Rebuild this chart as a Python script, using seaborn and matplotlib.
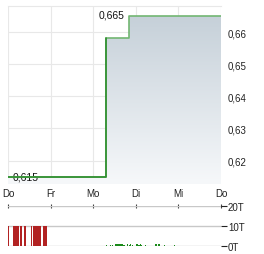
import numpy as np
import pandas as pd
import matplotlib
matplotlib.use("Agg")
import matplotlib.pyplot as plt
from matplotlib.colors import LinearSegmentedColormap
import seaborn as sns

# ---- data ----
day_labels = ["Do", "Fr", "Mo", "Di", "Mi", "Do"]
day_pos = [0, 1, 2, 3, 4, 5]

price_times = [0.0, 2.31, 2.85, 5.0]
price_values = [0.615, 0.658, 0.665, 0.665]

y_ticks = [0.62, 0.63, 0.64, 0.65, 0.66]
y_tick_labels = ["0,62", "0,63", "0,64", "0,65", "0,66"]

max_label = "0,665"
min_label = "0,615"

red_times = [0.0, 0.11, 0.135, 0.16, 0.185, 0.21, 0.235, 0.28, 0.30,
             0.37, 0.395, 0.54, 0.58, 0.605, 0.63, 0.655, 0.68, 0.705, 0.73, 0.755,
             0.83, 0.855, 0.88, 0.89]
red_vols = [10.0] * len(red_times)

green_times = [2.30, 2.39, 2.44, 2.50, 2.53, 2.56, 2.59, 2.62, 2.65, 2.68, 2.71,
               2.80, 2.83, 2.86, 2.90, 3.00, 3.03, 3.06, 3.09, 3.12, 3.22,
               3.45, 3.48, 3.51, 3.55, 3.66, 3.90]
green_vols = [0.6, 0.6, 0.5, 0.9, 0.9, 0.9, 0.9, 0.9, 0.9, 0.9, 0.6,
              0.9, 0.6, 0.9, 0.6, 0.9, 0.9, 0.6, 0.9, 0.6, 0.6,
              0.9, 0.9, 0.9, 0.9, 0.6, 0.6]

vol_ticks = [0, 10, 20]
vol_tick_labels = ["0T", "10T", "20T"]

# ---- figure ----
sns.set_style("white")
plt.rcParams["font.family"] = ["Liberation Sans", "DejaVu Sans"]

W, H = 264, 255
fig = plt.figure(figsize=(W / 100, H / 100), dpi=100)

left, right = 8 / W, 221 / W
ax = fig.add_axes([left, 1 - 185 / H, right - left, (185 - 7) / H])
axv = fig.add_axes([left, 1 - 247 / H, right - left, (247 - 207) / H])

ymin, ymax = 0.6127, 0.6681
ax.set_xlim(0, 5)
ax.set_ylim(ymin, ymax)

# gradient fill under the step line
df = pd.DataFrame({"t": price_times, "p": price_values})
poly = ax.fill_between(df["t"], df["p"], ymin, step="post", color="none", lw=0)
cmap = LinearSegmentedColormap.from_list("g", ["#f6f8fa", "#c3ced7"])
grad = np.linspace(0, 1, 256).reshape(-1, 1)
im = ax.imshow(grad, extent=[0, 5, ymin, ymax], origin="lower", aspect="auto",
               cmap=cmap, zorder=1)
im.set_clip_path(poly.get_paths()[0], transform=ax.transData)

sns.lineplot(data=df, x="t", y="p", ax=ax, drawstyle="steps-post",
             color="#72b672", lw=1.2, zorder=3)
low = df.iloc[:2]
sns.lineplot(x=low["t"], y=low["p"], ax=ax, drawstyle="steps-post",
             color="#2f8f2f", lw=1.2, zorder=4)

ax.set_xticks(day_pos)
ax.set_xticklabels(day_labels)
ax.set_yticks(y_ticks)
ax.set_yticklabels(y_tick_labels)
ax.yaxis.tick_right()
ax.tick_params(axis="y", length=0, pad=5, labelsize=7, colors="#222222")
ax.tick_params(axis="x", length=0, pad=3, labelsize=7, colors="#222222")
ax.grid(True, color="#e8e8e8", lw=0.8, zorder=0)
ax.set_axisbelow(True)
for s in ["left", "bottom", "right"]:
    ax.spines[s].set_visible(False)
ax.spines["top"].set_color("#e8e8e8")
ax.spines["top"].set_linewidth(0.8)
ax.set_xlabel("")
ax.set_ylabel("")

i_max = int(np.argmax(price_values))
ax.text(price_times[i_max] - 0.12, price_values[i_max] + 0.0003, max_label,
        ha="right", va="center", fontsize=7.5, color="#111111", zorder=5,
        bbox=dict(facecolor="white", edgecolor="none", pad=0.5))
ax.text(0.12, price_values[0], min_label, ha="left", va="center",
        fontsize=7.5, color="#111111", zorder=2)

# ---- volume panel ----
axv.set_xlim(0, 5)
axv.set_ylim(0, 20)
axv.bar(red_times, red_vols, width=0.03, align="edge", color="#b22222",
        lw=0, zorder=2, antialiased=False)
axv.bar(green_times, green_vols, width=0.028, align="edge", color="#1a8a1a",
        lw=0, zorder=2, antialiased=False)
axv.set_yticks(vol_ticks)
axv.set_yticklabels(vol_tick_labels)
axv.yaxis.tick_right()
axv.tick_params(axis="y", length=4, width=0.8, pad=1, labelsize=7,
                colors="#222222")
axv.set_xticks(day_pos)
axv.xaxis.tick_top()
axv.tick_params(axis="x", direction="inout", length=3, width=0.8,
                color="#444444", labeltop=False, labelbottom=False)
axv.grid(True, axis="y", color="#c8c8c8", lw=1, zorder=0)
axv.set_axisbelow(True)
for s in ["left", "bottom", "right", "top"]:
    axv.spines[s].set_visible(False)

fig.savefig("out.png", dpi=100)
